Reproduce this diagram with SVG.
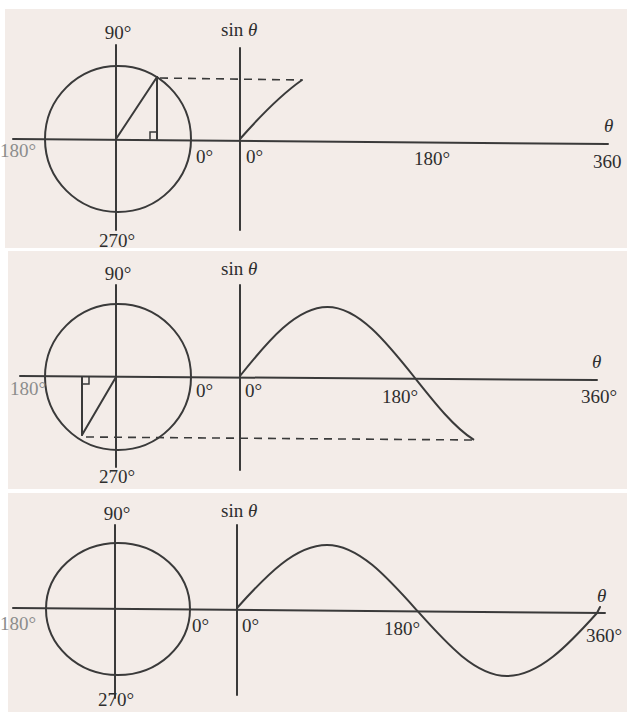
<svg xmlns="http://www.w3.org/2000/svg" width="627" height="712" viewBox="0 0 627 712">
<style>
.bg{fill:#f3ece8}
.ln{fill:none;stroke:#3a3a3a;stroke-width:2;stroke-linecap:round}
.dash{fill:none;stroke:#3a3a3a;stroke-width:1.6;stroke-dasharray:8 6}
.t{font-family:"Liberation Serif","Times New Roman",serif;font-size:19px;fill:#2e2e2e}
.f{fill:#8c8c8c}
.it{font-style:italic}
.m{text-anchor:middle}
</style>
<rect width="627" height="712" fill="#ffffff"/>

<g id="panel1">
<rect class="bg" x="5" y="9" width="622" height="239"/>
<circle class="ln" cx="118" cy="139" r="73"/>
<line class="ln" x1="116" y1="45" x2="116" y2="230"/>
<line class="ln" x1="13" y1="139" x2="608" y2="144"/>
<line class="ln" x1="240" y1="48" x2="240" y2="230"/>
<line class="ln" x1="116" y1="139" x2="157" y2="77"/>
<line class="ln" x1="157" y1="77" x2="157" y2="139"/>
<polyline class="ln" points="150,139 150,132 157,132" style="stroke-width:1.5"/>
<line class="dash" x1="160" y1="78" x2="302" y2="80"/>
<path class="ln" d="M240,139 C262,114 282,94 302,80"/>
<text class="t m" x="118" y="39">90°</text>
<text class="t" x="221" y="36">sin <tspan class="it">θ</tspan></text>
<text class="t f" x="0" y="157">180°</text>
<text class="t" x="196" y="163">0°</text>
<text class="t" x="246" y="163">0°</text>
<text class="t m" x="117" y="247">270°</text>
<text class="t" x="414" y="165">180°</text>
<text class="t it" x="604" y="132">θ</text>
<text class="t" x="593" y="168">360</text>
</g>

<g id="panel2">
<rect class="bg" x="8" y="251" width="619" height="238"/>
<circle class="ln" cx="118" cy="377" r="73"/>
<line class="ln" x1="116" y1="285" x2="116" y2="467"/>
<line class="ln" x1="20" y1="376" x2="597" y2="380"/>
<line class="ln" x1="240" y1="285" x2="240" y2="470"/>
<line class="ln" x1="116" y1="377" x2="82" y2="435"/>
<line class="ln" x1="82" y1="377" x2="82" y2="435"/>
<polyline class="ln" points="82,384 89,384 89,377" style="stroke-width:1.5"/>
<line class="dash" x1="86" y1="437" x2="473" y2="440"/>
<path class="ln" d="M240,376 C268.6,340.1 296.7,307 327.5,307 C358.3,307 386.4,342.1 415,378 C434.4,402.4 453.9,427.2 473.3,439.4"/>
<text class="t m" x="118" y="280">90°</text>
<text class="t" x="221" y="275">sin <tspan class="it">θ</tspan></text>
<text class="t f" x="10" y="395">180°</text>
<text class="t" x="196" y="397">0°</text>
<text class="t" x="245" y="397">0°</text>
<text class="t m" x="117" y="483">270°</text>
<text class="t" x="382" y="403">180°</text>
<text class="t it" x="592" y="368">θ</text>
<text class="t" x="581" y="403">360°</text>
</g>

<g id="panel3">
<rect class="bg" x="8" y="493" width="619" height="219"/>
<ellipse class="ln" cx="118" cy="609" rx="72" ry="66"/>
<line class="ln" x1="115" y1="525" x2="115" y2="698"/>
<line class="ln" x1="13" y1="608" x2="605" y2="613"/>
<line class="ln" x1="237" y1="525" x2="237" y2="695"/>
<path class="ln" d="M237,608 C266.4,575.2 295.4,545 327,545 C358.6,545 387.6,577.7 417,610.5 C446.4,643.3 475.4,676 507,676 C538.6,676 567.6,645.8 597,613 L600,607"/>
<text class="t m" x="117" y="520">90°</text>
<text class="t" x="221" y="517">sin <tspan class="it">θ</tspan></text>
<text class="t f" x="0" y="630">180°</text>
<text class="t" x="192" y="632">0°</text>
<text class="t" x="242" y="632">0°</text>
<text class="t m" x="116" y="706">270°</text>
<text class="t" x="384" y="635">180°</text>
<text class="t it" x="597" y="602">θ</text>
<text class="t" x="586" y="642">360°</text>
</g>
</svg>
